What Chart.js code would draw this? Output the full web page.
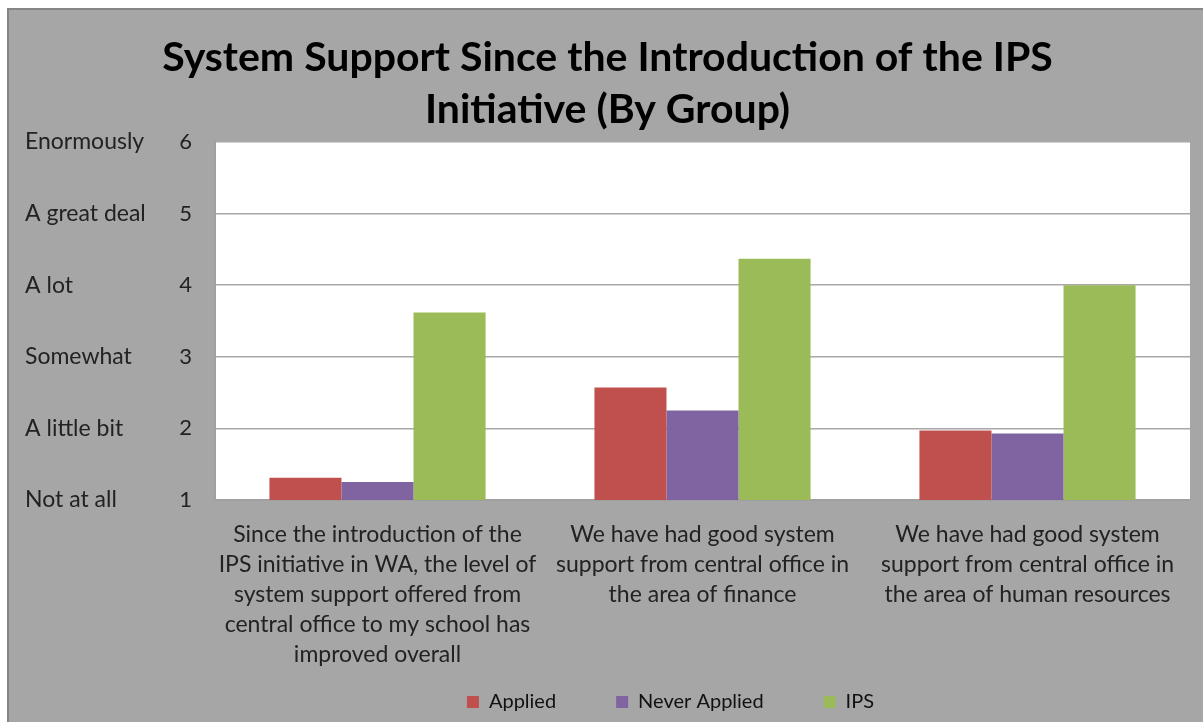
<!DOCTYPE html>
<html>
<head>
<meta charset="utf-8">
<script src="https://cdn.jsdelivr.net/npm/chart.js@4"></script>
<style>
  body { margin: 0; background: #fff; }
</style>
</head>
<body>
<canvas id="bars" width="1203" height="722"></canvas>
<script>
const questions = [
    ['Since the introduction of the', 'IPS initiative in WA, the level of', 'system support offered from', 'central office to my school has', 'improved overall'],
    ['We have had good system', 'support from central office in', 'the area of finance'],
    ['We have had good system', 'support from central office in', 'the area of human resources']
]
const levelLabels = ['Not at all', 'A little bit', 'Somewhat', 'A lot', 'A great deal', 'Enormously']
const applied = [1.31, 2.57, 1.97]
const neverApplied = [1.25, 2.25, 1.93]
const ips = [3.62, 4.37, 4.0]

// gray frame + white plot area
const background = {
    id: 'background',
    beforeDraw(chart) {
        const {ctx, chartArea} = chart
        ctx.save()
        ctx.fillStyle = '#ffffff'
        ctx.fillRect(0, 0, chart.width, chart.height)
        ctx.fillStyle = '#a6a6a6'
        ctx.fillRect(7, 8, chart.width - 7, chart.height - 8)
        ctx.strokeStyle = '#858585'
        ctx.lineWidth = 2
        ctx.beginPath()
        ctx.moveTo(8, chart.height)
        ctx.lineTo(8, 9)
        ctx.lineTo(chart.width, 9)
        ctx.stroke()
        ctx.fillStyle = '#ffffff'
        ctx.fillRect(chartArea.left, chartArea.top, chartArea.right - chartArea.left, chartArea.bottom - chartArea.top)
        ctx.restore()
    }
}

// legend sits a bit right of centre, and the long x labels run down into the legend band
const layoutTweaks = {
    id: 'layoutTweaks',
    afterLayout(chart) {
        chart.legend.left += 63
        chart.legend.right += 63
        chart.scales.x.bottom = chart.height
    }
}

const ctx = document.getElementById('bars').getContext('2d')
const bars = new Chart(ctx, {
    type: 'bar',
    data: {
        labels: questions,
        datasets: [
            { label: 'Applied', data: applied, backgroundColor: '#c0504d' },
            { label: 'Never Applied', data: neverApplied, backgroundColor: '#8064a2' },
            { label: 'IPS', data: ips, backgroundColor: '#9bbb59' }
        ]
    },
    options: {
        responsive: false,
        animation: false,
        layout: {
            padding: { left: 25, right: 13, top: 20, bottom: 0 }
        },
        datasets: {
            bar: { barPercentage: 1, categoryPercentage: 0.665 }
        },
        plugins: {
            title: {
                display: true,
                text: ['System Support Since the Introduction of the IPS', 'Initiative (By Group)'],
                color: '#000',
                font: { family: 'Lato', size: 41, weight: 'bold', lineHeight: '52px' },
                padding: { top: 12, bottom: 6 }
            },
            legend: {
                position: 'bottom',
                labels: {
                    color: '#111',
                    font: { family: 'Lato', size: 20 },
                    boxWidth: 12,
                    boxHeight: 12,
                    padding: 60
                }
            },
            tooltip: { enabled: false }
        },
        scales: {
            x: {
                grid: { display: false },
                border: { color: '#a0a0a0', width: 2 },
                ticks: {
                    color: '#222',
                    font: { family: 'Lato', size: 23, lineHeight: '30px' },
                    padding: 12,
                    maxRotation: 0,
                    autoSkip: false
                },
                afterFit(scale) { scale.height = 132 }
            },
            y: {
                min: 1,
                max: 6,
                weight: 0,
                grid: { color: '#a8a8a8', lineWidth: 1.5, drawTicks: false },
                border: { color: '#a0a0a0', width: 2 },
                ticks: {
                    stepSize: 1,
                    color: '#222',
                    font: { family: 'Lato', size: 22 },
                    padding: 23
                },
                afterFit(scale) { scale.width = 50 }
            },
            levels: {
                type: 'linear',
                position: 'left',
                min: 1,
                max: 6,
                weight: 1,
                grid: { display: false, drawTicks: false },
                border: { display: false },
                ticks: {
                    stepSize: 1,
                    crossAlign: 'far',
                    color: '#222',
                    font: { family: 'Lato', size: 23 },
                    callback: value => levelLabels[value - 1]
                },
                afterFit(scale) { scale.width = 140 }
            }
        }
    },
    plugins: [background, layoutTweaks]
})
</script>
</body>
</html>
